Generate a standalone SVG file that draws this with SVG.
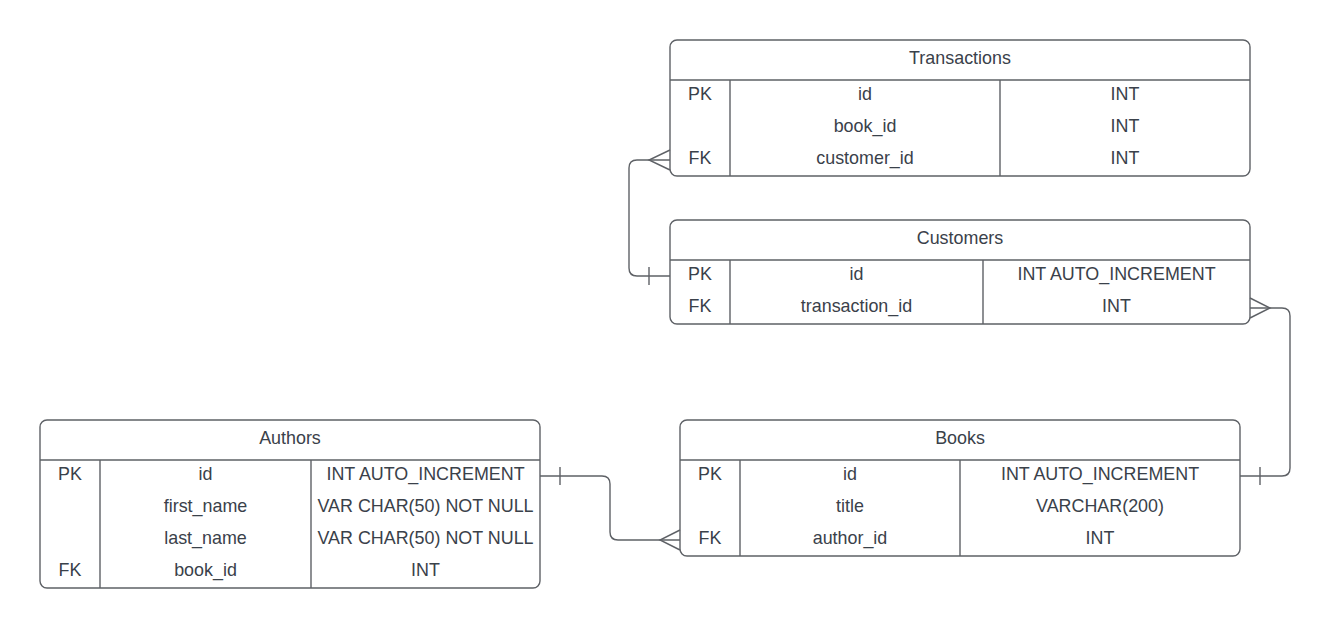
<svg xmlns="http://www.w3.org/2000/svg" width="1331" height="628" viewBox="0 0 1331 628">
<style>
.box{fill:#ffffff;stroke:#5e6166;stroke-width:1.4}
.ln{stroke:#5e6166;stroke-width:1.4;fill:none}
.t{font-family:"Liberation Sans",Arial,sans-serif;font-size:17.9px;fill:#3a414a;text-anchor:middle}
.c{stroke:#5e6166;stroke-width:1.4;fill:none}
</style>
<rect width="1331" height="628" fill="#ffffff"/>
<g id="transactions">
<rect class="box" x="670" y="40" width="580" height="136" rx="7"/>
<path class="ln" d="M670,80H1250M730,80V176M1000,80V176"/>
<text class="t" x="960" y="64">Transactions</text>
<text class="t" x="700" y="100">PK</text><text class="t" x="865" y="100">id</text><text class="t" x="1125" y="100">INT</text>
<text class="t" x="865" y="132">book_id</text><text class="t" x="1125" y="132">INT</text>
<text class="t" x="700" y="164">FK</text><text class="t" x="865" y="164">customer_id</text><text class="t" x="1125" y="164">INT</text>
</g>
<g id="customers">
<rect class="box" x="670" y="220" width="580" height="104" rx="7"/>
<path class="ln" d="M670,260H1250M730,260V324M983,260V324"/>
<text class="t" x="960" y="244">Customers</text>
<text class="t" x="700" y="280">PK</text><text class="t" x="856.5" y="280">id</text><text class="t" x="1116.5" y="280">INT AUTO_INCREMENT</text>
<text class="t" x="700" y="312">FK</text><text class="t" x="856.5" y="312">transaction_id</text><text class="t" x="1116.5" y="312">INT</text>
</g>
<g id="books">
<rect class="box" x="680" y="420" width="560" height="136" rx="7"/>
<path class="ln" d="M680,460H1240M740,460V556M960,460V556"/>
<text class="t" x="960" y="444">Books</text>
<text class="t" x="710" y="480">PK</text><text class="t" x="850" y="480">id</text><text class="t" x="1100" y="480">INT AUTO_INCREMENT</text>
<text class="t" x="850" y="512">title</text><text class="t" x="1100" y="512">VARCHAR(200)</text>
<text class="t" x="710" y="544">FK</text><text class="t" x="850" y="544">author_id</text><text class="t" x="1100" y="544">INT</text>
</g>
<g id="authors">
<rect class="box" x="40" y="420" width="500" height="168" rx="7"/>
<path class="ln" d="M40,460H540M100,460V588M311,460V588"/>
<text class="t" x="290" y="444">Authors</text>
<text class="t" x="70" y="480">PK</text><text class="t" x="205.5" y="480">id</text><text class="t" x="425.5" y="480">INT AUTO_INCREMENT</text>
<text class="t" x="205.5" y="512">first_name</text><text class="t" x="425.5" y="512">VAR CHAR(50) NOT NULL</text>
<text class="t" x="205.5" y="544">last_name</text><text class="t" x="425.5" y="544">VAR CHAR(50) NOT NULL</text>
<text class="t" x="70" y="576">FK</text><text class="t" x="205.5" y="576">book_id</text><text class="t" x="425.5" y="576">INT</text>
</g>
<g id="connectors">
<path class="c" d="M670,160H637Q629,160 629,168V268Q629,276 637,276H670"/>
<path class="c" d="M670,150L649,160L670,170M649,267V285"/>
<path class="c" d="M1250,308H1282Q1290,308 1290,316V468Q1290,476 1282,476H1240"/>
<path class="c" d="M1250,298L1270,308L1250,318M1260,467V485"/>
<path class="c" d="M540,476H602Q610,476 610,484V532Q610,540 618,540H680"/>
<path class="c" d="M680,530L660,540L680,550M560,467V485"/>
</g>
</svg>
